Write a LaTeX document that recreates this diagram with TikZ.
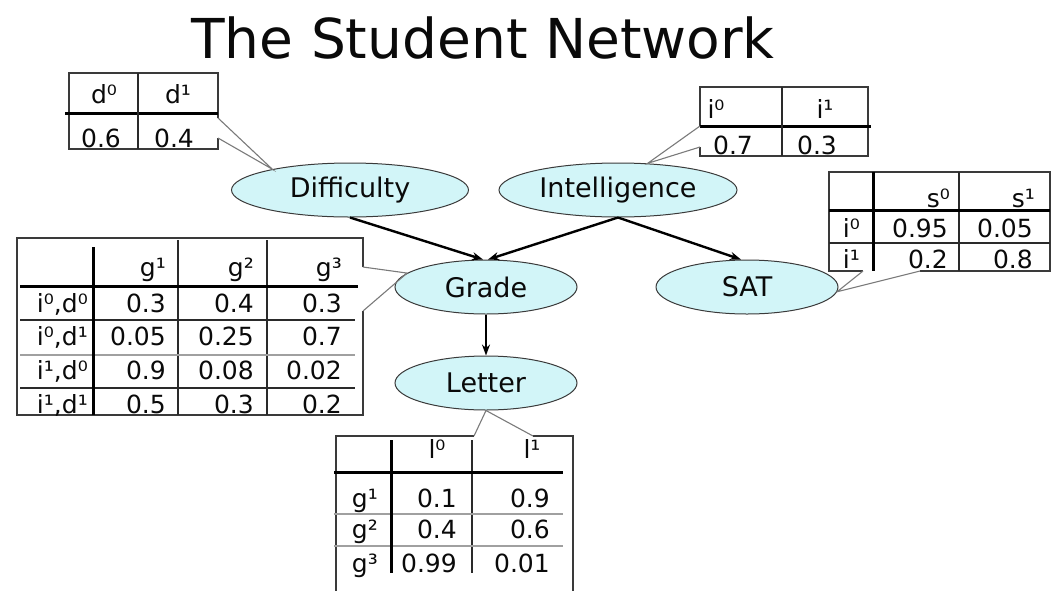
\documentclass[tikz,border=0pt]{standalone}
\usepackage{fontspec}
\setmainfont{DejaVu Sans}
\usetikzlibrary{positioning,arrows.meta,shapes.geometric}
\definecolor{ellC}{HTML}{D2F5F8}
\definecolor{edgeC}{HTML}{3A3A3A}
\definecolor{ruleC}{HTML}{2A2A2A}
\definecolor{greyC}{HTML}{A0A0A0}
\definecolor{calloutC}{HTML}{7A7A7A}
\definecolor{darkC}{HTML}{0A0A0A}

\begin{document}
\begin{tikzpicture}[
  x=1pt, y=-1pt,
  >={Stealth[length=11pt,width=8pt]},
  every node/.style={text=darkC},
  varnode/.style={ellipse, draw=edgeC, line width=1pt, fill=ellC,
                  minimum width=#1, minimum height=54pt, inner sep=0pt,
                  font=\fontsize{27}{31}\selectfont},
  depedge/.style={->, line width=2.4pt, draw=black},
  cell/.style={inner sep=0pt, font=\fontsize{25}{29}\selectfont},
  tabframe/.style={draw=edgeC, line width=1.1pt},
  thickrule/.style={draw=black, line width=3pt},
  thinrule/.style={draw=ruleC, line width=1.1pt},
  greyrule/.style={draw=greyC, line width=1.6pt},
  callout/.style={draw=calloutC, line width=1.1pt},
]
\useasboundingbox (0,0) rectangle (1052,590);

% ── Title ──
\node[font=\fontsize{55}{60}\selectfont, anchor=base] (title) at (483,58) {The Student Network};

% ── Variables ──
\node[varnode=237pt] (diff) at (350,190) {Difficulty};
\node[varnode=238pt] (intel) at (618,190) {Intelligence};
\node[varnode=182pt] (grade) at (486,287) {Grade};
\node[varnode=182pt, right=78pt of grade] (sat) {SAT};
\node[varnode=182pt, below=41pt of grade] (letter) {Letter};

% ── Dependencies ──
\draw[depedge] (diff.south) -- ([xshift=-3pt]grade.north);
\draw[depedge] (intel.south) -- ([xshift=2pt]grade.north);
\draw[depedge] (intel.south) -- ([xshift=-6pt]sat.north);
\draw[depedge] (grade.south) -- (letter.north);

% ── CPD: Difficulty ──
\coordinate (dA) at (218,118);
\coordinate (dB) at (218,138);
\draw[tabframe] (dA) -- (218,73) -- (69,73) -- (69,149) -- (218,149) -- (dB);
\draw[thickrule] (65,113) -- (218,113);
\draw[thinrule] (138,73) -- (138,149);
\node[cell, anchor=base] (d-h0) at (104,103) {d⁰};
\node[cell, anchor=base] (d-h1) at (178,103) {d¹};
\node[cell, anchor=base] (d-v0) at (101,147) {0.6};
\node[cell, anchor=base] (d-v1) at (174,147) {0.4};
\draw[callout] (dA) -- (diff.165) -- (dB);

% ── CPD: Intelligence ──
\coordinate (iA) at (700,126);
\coordinate (iB) at (700,147);
\draw[tabframe] (iA) -- (700,87) -- (868,87) -- (868,156) -- (700,156) -- (iB);
\draw[thickrule] (700,126) -- (871,126);
\draw[thinrule] (782,87) -- (782,156);
\node[cell, anchor=base] (i-h0) at (716,118) {i⁰};
\node[cell, anchor=base] (i-h1) at (825,118) {i¹};
\node[cell, anchor=base] (i-v0) at (733,154) {0.7};
\node[cell, anchor=base] (i-v1) at (817,154) {0.3};
\draw[callout] (iA) -- (intel.42) -- (iB);

% ── CPD: SAT ──
\coordinate (sA) at (863,271);
\coordinate (sB) at (920,271);
\draw[tabframe] (sA) -- (829,271) -- (829,172) -- (1050,172) -- (1050,271) -- (sB);
\draw[thinrule] (959,172) -- (959,271);
\draw[thinrule] (829,243) -- (1050,243);
\draw[thickrule] (829,210) -- (1050,210);
\draw[thickrule] (873,172) -- (873,271);
\node[cell, anchor=base east] (s-h0) at (950,207) {s⁰};
\node[cell, anchor=base east] (s-h1) at (1035,207) {s¹};
\foreach \lbl/\a/\b/\yb [count=\r] in {i⁰/0.95/0.05/237, i¹/0.2/0.8/268} {
  \node[cell, anchor=base east] (s\r-0) at (860,\yb) {\lbl};
  \node[cell, anchor=base east] (s\r-1) at (948,\yb) {\a};
  \node[cell, anchor=base east] (s\r-2) at (1033,\yb) {\b};
}
\draw[callout] (sA) -- (sat.-3) -- (sB);

% ── CPD: Grade ──
\coordinate (gA) at (363,267);
\coordinate (gB) at (363,311);
\draw[tabframe] (gA) -- (363,238) -- (17,238) -- (17,415) -- (363,415) -- (gB);
\draw[thinrule] (178,240) -- (178,415);
\draw[thinrule] (267,240) -- (267,415);
\draw[thinrule] (20,320) -- (355,320);
\draw[greyrule] (20,355) -- (355,355);
\draw[thinrule] (20,388) -- (355,388);
\draw[thickrule] (20,286) -- (358,286);
\draw[thickrule] (93,247) -- (93,415);
\node[cell, anchor=base east] (g-h1) at (166,276) {g¹};
\node[cell, anchor=base east] (g-h2) at (254,276) {g²};
\node[cell, anchor=base east] (g-h3) at (342,276) {g³};
\foreach \lbl/\a/\b/\c/\yb [count=\r] in {
    {i⁰,d⁰}/0.3/0.4/0.3/312, {i⁰,d¹}/0.05/0.25/0.7/345,
    {i¹,d⁰}/0.9/0.08/0.02/379, {i¹,d¹}/0.5/0.3/0.2/413} {
  \node[cell, anchor=base east] (g\r-0) at (88,\yb) {\lbl};
  \node[cell, anchor=base east] (g\r-1) at (166,\yb) {\a};
  \node[cell, anchor=base east] (g\r-2) at (254,\yb) {\b};
  \node[cell, anchor=base east] (g\r-3) at (342,\yb) {\c};
}
\draw[callout] (gA) -- (grade.170) -- (gB);

% ── CPD: Letter ──
\coordinate (lA) at (474,436);
\coordinate (lB) at (533,436);
\draw[tabframe] (lA) -- (336,436) -- (336,592);
\draw[tabframe] (lB) -- (573,436) -- (573,592);
\draw[thinrule] (472,440) -- (472,573);
\draw[greyrule] (334,514) -- (563,514);
\draw[greyrule] (334,546) -- (563,546);
\draw[thickrule] (334,472) -- (563,472);
\draw[thickrule] (391,440) -- (391,573);
\node[cell, anchor=base] (l-h0) at (437,458) {l⁰};
\node[cell, anchor=base] (l-h1) at (532,458) {l¹};
\foreach \lbl/\a/\b/\yb [count=\r] in {g¹/0.1/0.9/507, g²/0.4/0.6/538, g³/0.99/0.01/572} {
  \node[cell, anchor=base east] (l\r-0) at (378,\yb) {\lbl};
  \node[cell, anchor=base east] (l\r-1) at (457,\yb) {\a};
  \node[cell, anchor=base east] (l\r-2) at (550,\yb) {\b};
}
\draw[callout] (lA) -- (letter.south) -- (lB);

\end{tikzpicture}
\end{document}
